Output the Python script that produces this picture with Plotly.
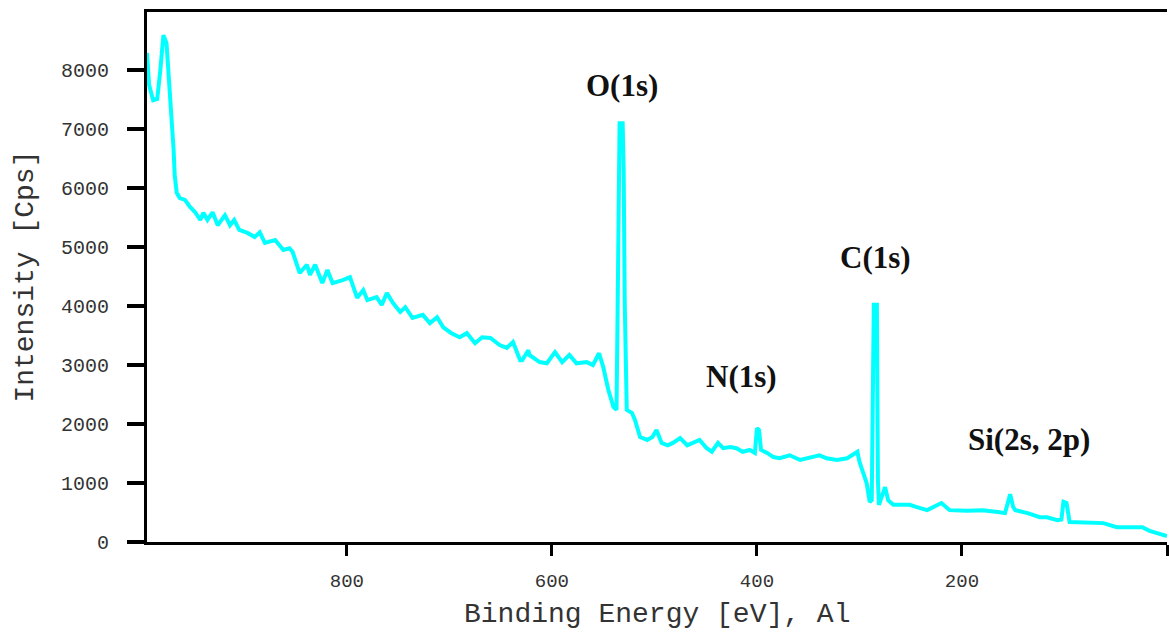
import plotly.graph_objects as go

# Binding energy (eV) and intensity (counts per second)
energy_ev = [
    995, 993, 989, 985, 982, 979, 976, 973, 971, 969, 968, 966, 963, 958, 953, 948,
    943, 940, 936, 931, 926, 919, 914, 910, 905, 897, 890, 885, 880, 870, 862, 856,
    853, 846, 839, 836, 831, 824, 819, 814, 804, 797, 790, 784, 780, 771, 766, 761,
    755, 748, 743, 736, 726, 719, 712, 706, 698, 690, 683, 675, 668, 660, 651, 644,
    638, 631, 629, 623, 622, 612, 605, 597, 590, 583, 576, 566, 560, 554, 550, 545,
    540, 537, 536, 535, 534, 531, 530, 529, 528, 527, 522, 519, 514, 507, 502, 498,
    493, 487, 482, 475, 468, 462, 456, 449, 444, 438, 433, 426, 420, 414, 407, 402,
    400, 398, 396, 390, 384, 378, 368, 358, 348, 339, 332, 322, 312, 302, 300, 293,
    290, 288, 287, 286, 283, 282.5, 282, 281, 277, 275, 272, 267, 260, 251, 244, 234,
    220, 212, 195, 180, 165, 158, 153, 150, 148, 136, 124, 117, 107, 103, 101, 98,
    95, 82, 62, 49, 33, 24, 17, 0,
]
intensity_cps = [
    8290, 7750, 7490, 7510, 8000, 8590, 8460, 7750, 7150, 6640, 6220, 5920, 5830, 5800, 5680, 5590,
    5460, 5580, 5460, 5590, 5370, 5540, 5370, 5460, 5290, 5240, 5170, 5250, 5070, 5120, 4950, 4980,
    4920, 4560, 4700, 4530, 4700, 4390, 4610, 4390, 4440, 4490, 4140, 4270, 4100, 4150, 4020, 4220,
    4050, 3900, 3980, 3800, 3850, 3710, 3810, 3640, 3540, 3470, 3540, 3370, 3470, 3460, 3340, 3290,
    3390, 3080, 3080, 3250, 3170, 3050, 3030, 3220, 3050, 3170, 3030, 3050, 3000, 3200, 2970, 2580,
    2290, 2240, 3760, 5340, 7100, 7100, 6300, 4100, 2410, 2240, 2190, 2070, 1780, 1730, 1780, 1900,
    1680, 1640, 1680, 1760, 1640, 1680, 1730, 1590, 1530, 1680, 1590, 1610, 1590, 1530, 1560, 1510,
    1930, 1900, 1560, 1510, 1440, 1420, 1470, 1390, 1440, 1470, 1420, 1390, 1420, 1530, 1360, 1000,
    680, 710, 2410, 4020, 4020, 2290, 1050, 630, 830, 930, 710, 630, 630, 630, 590, 540,
    660, 540, 530, 540, 510, 490, 810, 590, 540, 490, 420, 420, 370, 380, 680, 660,
    340, 330, 320, 250, 240, 250, 190, 100,
]

x_ticks = [800, 600, 400, 200, 0]
x_tick_text = ["800", "600", "400", "200", ""]
y_ticks = [0, 1000, 2000, 3000, 4000, 5000, 6000, 7000, 8000]

peak_labels = ["O(1s)", "N(1s)", "C(1s)", "Si(2s, 2p)"]
peak_label_ev = [532, 415, 284, 135]
peak_label_cps = [7740, 2800, 4830, 1730]

fig = go.Figure()
fig.add_trace(go.Scatter(
    x=energy_ev, y=intensity_cps, mode="lines",
    line=dict(color="#00ffff", width=4), showlegend=False, hoverinfo="skip",
))

for text, xv, yv in zip(peak_labels, peak_label_ev, peak_label_cps):
    fig.add_annotation(
        x=xv, y=yv, text=f"<b>{text}</b>", showarrow=False,
        font=dict(family="Liberation Serif", size=31, color="#111111"),
        xanchor="center", yanchor="middle",
    )

mono = "Liberation Mono"
fig.add_annotation(
    x=0.5, y=-0.1377, xref="paper", yref="paper", text="Binding Energy [eV], Al",
    showarrow=False, xanchor="center", yanchor="middle",
    font=dict(family=mono, size=28, color="#333333"),
)
fig.add_annotation(
    x=-0.12, y=0.5, xref="paper", yref="paper", text="Intensity [Cps]",
    showarrow=False, xanchor="center", yanchor="middle", textangle=-90,
    font=dict(family=mono, size=28, color="#333333"),
)

fig.update_layout(
    width=1169, height=632,
    margin=dict(l=147, r=2, t=12, b=90),
    paper_bgcolor="white", plot_bgcolor="white",
    xaxis=dict(
        range=[995, 0], tickvals=x_ticks, ticktext=x_tick_text,
        showgrid=False, zeroline=False,
        showline=True, linecolor="black", linewidth=3, mirror=True,
        ticks="outside", ticklen=11, tickwidth=3, tickcolor="black",
        tickfont=dict(family=mono, size=19, color="#333333"),
        ticklabelstandoff=8,
    ),
    yaxis=dict(
        range=[0, 8985], tickvals=y_ticks,
        showgrid=False, zeroline=False,
        showline=True, linecolor="black", linewidth=3, mirror=False,
        ticks="outside", ticklen=17, tickwidth=4, tickcolor="black",
        tickfont=dict(family=mono, size=20, color="#333333"),
        ticklabelstandoff=14,
    ),
)

fig.write_html("out.html")
